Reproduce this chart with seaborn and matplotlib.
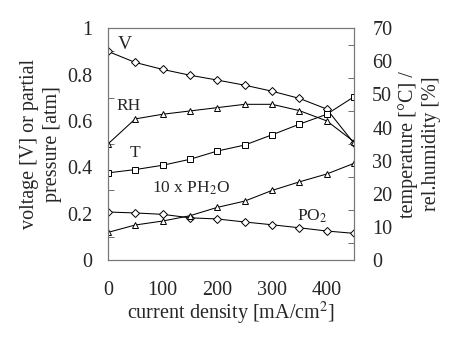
import matplotlib
matplotlib.use("Agg")
import matplotlib.pyplot as plt
import seaborn as sns
import pandas as pd
from matplotlib.ticker import MultipleLocator

current = [0, 50, 100, 150, 200, 250, 300, 350, 400, 450]
voltage = [0.90, 0.852, 0.822, 0.797, 0.776, 0.754, 0.728, 0.697, 0.651, 0.503]
po2 = [0.207, 0.203, 0.197, 0.182, 0.177, 0.164, 0.152, 0.139, 0.125, 0.115]
ph2o_x10 = [0.119, 0.151, 0.168, 0.191, 0.227, 0.254, 0.300, 0.337, 0.371, 0.417]
rh_pct = [35.0, 42.6, 44.0, 45.0, 46.0, 47.0, 47.0, 45.1, 42.0, 35.7]
temp_c = [26.3, 27.3, 28.6, 30.4, 32.9, 34.7, 37.8, 41.0, 44.0, 49.3]

sns.set_style("white")
plt.rcParams['font.family'] = ['Liberation Serif', 'DejaVu Serif']
plt.rcParams['mathtext.fontset'] = 'stix'

fig = plt.figure(figsize=(4.69, 3.39), dpi=100)
ax = fig.add_axes([0.230, 0.233, 0.525, 0.684])
ax2 = ax.twinx()

left_df = pd.DataFrame({"x": current, "V": voltage, "PO2": po2, "PH2O": ph2o_x10})
right_df = pd.DataFrame({"x": current, "RH": rh_pct, "T": temp_c})

kw = dict(color="black", linewidth=0.75, markersize=4.5, markerfacecolor="white",
          markeredgecolor="black", markeredgewidth=0.7)
sns.lineplot(data=left_df, x="x", y="V", ax=ax, marker="D", **{**kw, "markersize": 3.6})
sns.lineplot(data=left_df, x="x", y="PO2", ax=ax, marker="D", **{**kw, "markersize": 3.6})
sns.lineplot(data=left_df, x="x", y="PH2O", ax=ax, marker="^", **kw)
sns.lineplot(data=right_df, x="x", y="RH", ax=ax2, marker="^", **kw)
sns.lineplot(data=right_df, x="x", y="T", ax=ax2, marker="s", **kw)

ax.set_xlim(0, 450)
ax.set_ylim(0, 1)
ax2.set_ylim(0, 70)
ax.set_xticks([0, 100, 200, 300, 400])
ax.xaxis.set_minor_locator(MultipleLocator(50))
ax.set_yticks([0, 0.2, 0.4, 0.6, 0.8, 1.0])
ax.set_yticklabels(["0", "0.2", "0.4", "0.6", "0.8", "1"])
ax.yaxis.set_minor_locator(MultipleLocator(0.1))
ax2.set_yticks([0, 10, 20, 30, 40, 50, 60, 70])
ax2.yaxis.set_minor_locator(MultipleLocator(5))

for a in (ax, ax2):
    a.tick_params(which="both", direction="in", length=4, width=0.6, color="#555555",
                  labelsize=14.5)
    a.tick_params(which="major", length=0)
    for s in a.spines.values():
        s.set_color("#777777")
        s.set_linewidth(0.8)
ax.tick_params(axis="x", which="major", pad=15)
ax.tick_params(axis="y", which="major", pad=11)
ax2.tick_params(axis="y", which="major", pad=13)

ax.set_xlabel("current density [mA/cm$^2$]", fontsize=14.5, labelpad=0)
ax.set_ylabel("voltage [V] or partial\npressure [atm]", fontsize=14.5, labelpad=4,
              linespacing=1.3)
ax2.set_ylabel("temperature [°C] /\nrel.humidity [%]", fontsize=14.5, labelpad=4,
               linespacing=1.3, rotation=90)

ax.text(18, 0.93, "V", fontsize=14, ha="left", va="center")
ax.text(15, 0.665, "RH", fontsize=12.5, ha="left", va="center")
ax.text(40, 0.46, "T", fontsize=12.5, ha="left", va="center")
ax.text(80, 0.31, "10 x PH$_2$O", fontsize=12.5, ha="left", va="center")
ax.text(345, 0.19, "PO$_2$", fontsize=12.5, ha="left", va="center")

fig.savefig("out.png", dpi=100)
